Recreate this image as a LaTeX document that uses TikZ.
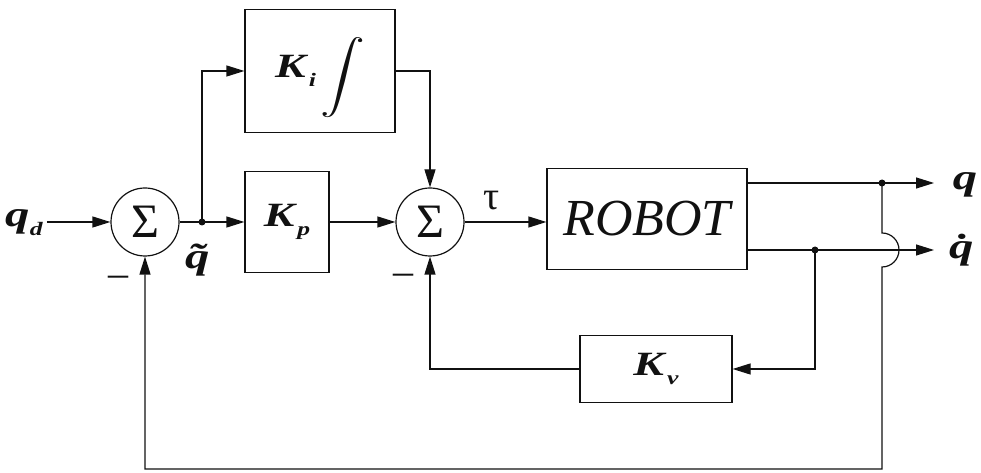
\documentclass[tikz,border=0pt]{standalone}
\usepackage{fontspec}
\usepackage{graphicx}
\usepackage{exscale}
\setmainfont{Liberation Serif}
\usetikzlibrary{arrows.meta}

\definecolor{bdink}{HTML}{111111}

\newcommand{\bsym}[1]{\scalebox{1.35}[1]{\textbf{\textit{#1}}}}
\newcommand{\bsub}[2]{\bsym{#1}\kern0.5pt\raisebox{-0.25em}{\fontsize{19}{19}\selectfont\bsym{#2}}}

\begin{document}
\begin{tikzpicture}[
  x=1pt, y=1pt,
  line width=1.2pt, color=bdink,
  font=\fontsize{40}{42}\selectfont,
  blk/.style={draw=bdink, rectangle, inner sep=0pt, font=\fontsize{34}{34}\selectfont},
  sumnode/.style={draw=bdink, circle, minimum size=68pt, inner sep=0pt,
    font=\fontsize{48}{48}\selectfont},
  sig/.style={-{Triangle[length=18pt,width=11pt]}},
  lbl/.style={font=\fontsize{36}{36}\selectfont},
]
\useasboundingbox (0,0) rectangle (981,473);

\node[lbl] (qd) at (24,250) {\bsub{q}{d}};
\node[sumnode] (s1) at (145,251) {Σ};
\coordinate (j1) at (202,251);
\node[lbl] (qt) at (207,213) {\bsym{\~q}};
\node (m1) at (118,192) {–};

\node[blk, minimum width=150pt, minimum height=123pt] (ki) at (320,402)
  {\bsub{K}{i}\kern4pt\raisebox{-9pt}[0pt][0pt]{\scalebox{1.8}[1.45]{\fontsize{38}{38}\selectfont$\displaystyle\int$}}};
\node[blk, minimum width=84pt, minimum height=101pt] (kp) at (287,251)
  {\bsub{K}{p}};

\node[sumnode] (s2) at (430,251) {Σ};
\node[font=\fontsize{40}{40}\selectfont] (tau) at (492,272) {τ};
\node (m2) at (403,194) {–};

\node[blk, minimum width=200pt, minimum height=101pt,
  font=\fontsize{52}{52}\selectfont\itshape] (rob) at (647,254) {ROBOT};
\node[blk, minimum width=152pt, minimum height=67pt] (kv) at (656,104)
  {\bsub{K}{v}};

\coordinate (jq) at (882,290);
\coordinate (jv) at (815,223);
\coordinate (qe) at (934,290);
\coordinate (qde) at (934,223);
\coordinate (fbk) at (882,4);
\node[lbl] (q) at (965,288) {\bsym{q}};
\node[lbl] (qdot) at (965,223) {\bsym{\.q}};

\draw[sig] (qd.east |- s1.west) -- (s1.west);
\draw (s1.east) -- (j1);
\draw[sig] (j1) -- (kp.west);
\draw[sig] (j1) |- (ki.west);
\draw[sig] (ki.east) -| (s2.north);
\draw[sig] (kp.east) -- (s2.west);
\draw[sig] (s2.east) -- (s2.east -| rob.west);

\draw[sig] (rob.east |- jq) -- (qe);
\draw[sig] (rob.east |- jv) -- (qde);
\draw[sig] (jv) |- (kv.east);
\draw[sig] (kv.west) -| (s2.south);
\draw[sig] (jq) -- ++(0,-50) arc[start angle=90, end angle=-90, radius=17pt]
  -- (fbk) -| (s1.south);

\fill (j1) circle (3.5pt);
\fill (jq) circle (3.5pt);
\fill (jv) circle (3.5pt);

\end{tikzpicture}
\end{document}
